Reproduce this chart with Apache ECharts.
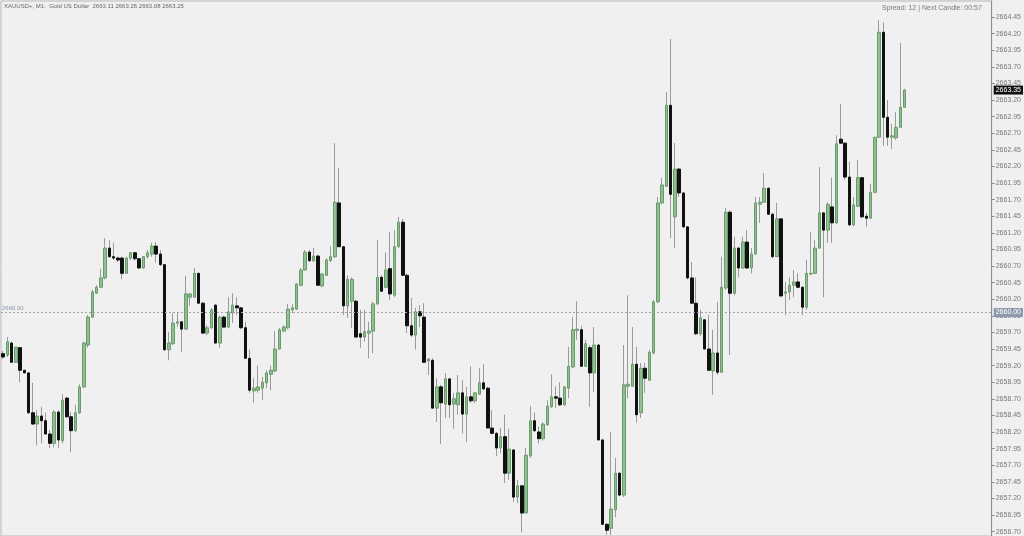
<!DOCTYPE html>
<html><head><meta charset="utf-8">
<script src="https://cdn.jsdelivr.net/npm/echarts@6/dist/echarts.min.js"></script>
<style>html,body{margin:0;padding:0;background:#f0f0f0;}#c{width:1024px;height:536px;}</style>
</head><body><div id="c"></div>
<script>
const titleText = "XAUUSD+, M1:  Gold US Dollar  2663.11 2663.26 2663.08 2663.25";
const infoText = "Spread: 12 | Next Candle: 00:57";
const refLevel = 2660.00;

const open = [
2659.38,2659.36,2659.54,2659.25,2659.47,2659.13,2659.09,2658.49,2658.32,2658.44,
2658.37,2658.17,2658.03,2658.50,2658.07,2658.71,2658.43,2658.22,2658.49,2658.88,
2659.51,2659.93,2660.29,2660.38,2660.52,2660.97,2660.84,2660.82,2660.82,2660.59,
2660.82,2660.90,2660.81,2660.67,2660.84,2660.88,2661.00,2660.88,2660.72,2659.44,
2659.53,2659.84,2659.86,2659.75,2660.23,2660.23,2660.59,2660.14,2659.69,2659.77,
2660.11,2659.54,2659.93,2659.78,2659.99,2660.10,2660.07,2659.77,2659.31,2658.82,
2658.83,2658.86,2658.94,2659.07,2659.12,2659.45,2659.72,2659.77,2660.04,2660.05,
2660.41,2660.64,2660.91,2660.78,2660.85,2660.40,2660.56,2660.78,2660.84,2661.65,
2660.99,2660.10,2660.17,2660.17,2659.68,2659.63,2659.69,2659.72,2660.13,2660.53,
2660.38,2660.66,2660.26,2660.99,2661.36,2660.56,2659.80,2659.66,2660.01,2659.93,
2659.27,2659.28,2658.56,2658.88,2658.62,2659.00,2658.62,2658.61,2658.79,2658.47,
2658.73,2658.67,2658.77,2658.94,2658.86,2658.26,2658.18,2657.96,2658.13,2657.58,
2657.93,2657.22,2657.39,2656.98,2657.84,2658.37,2658.20,2658.10,2658.31,2658.58,
2658.73,2658.71,2658.61,2658.86,2659.18,2659.73,2659.74,2659.19,2659.47,2659.09,
2659.51,2658.08,2656.81,2656.75,2657.03,2657.58,2657.25,2658.89,2658.89,2659.22,
2658.49,2659.16,2658.98,2659.39,2660.16,2661.65,2661.90,2663.12,2661.44,2662.16,
2661.80,2661.29,2660.52,2660.14,2659.68,2659.89,2659.45,2659.12,2659.39,2659.10,
2660.37,2661.51,2660.29,2660.97,2660.67,2661.06,2660.67,2660.88,2661.63,2661.66,
2661.87,2661.48,2660.84,2661.41,2660.29,2660.31,2660.41,2660.46,2660.38,2660.08,
2660.58,2660.59,2660.97,2661.50,2661.24,2661.59,2661.35,2662.61,2662.55,2662.04,
2661.32,2661.60,2662.03,2661.45,2661.42,2661.81,2662.64,2664.22,2662.94,2662.64,
2662.63,2662.79,2663.09
];
const close = [
2659.33,2659.56,2659.25,2659.48,2659.13,2659.09,2658.49,2658.32,2658.44,2658.37,
2658.17,2658.03,2658.50,2658.08,2658.68,2658.43,2658.22,2658.49,2658.88,2659.54,
2659.93,2660.31,2660.38,2660.52,2660.97,2660.84,2660.82,2660.79,2660.59,2660.82,
2660.90,2660.81,2660.67,2660.84,2660.90,2661.00,2660.88,2660.72,2659.44,2659.54,
2659.84,2659.86,2659.75,2660.28,2660.28,2660.59,2660.14,2659.69,2659.77,2660.04,
2659.54,2659.93,2659.78,2660.01,2660.11,2660.07,2659.77,2659.31,2658.83,2658.86,
2658.88,2658.95,2659.09,2659.13,2659.45,2659.74,2659.78,2660.05,2660.07,2660.43,
2660.64,2660.91,2660.78,2660.85,2660.41,2660.58,2660.79,2660.84,2661.66,2660.99,
2660.10,2660.50,2660.50,2659.63,2659.63,2659.71,2659.72,2660.13,2660.53,2660.32,
2660.64,2660.28,2660.99,2661.36,2660.56,2659.80,2659.66,2660.01,2659.95,2659.25,
2659.30,2658.56,2658.88,2658.64,2659.00,2658.61,2658.70,2658.79,2658.47,2658.73,
2658.67,2658.79,2658.94,2658.85,2658.26,2658.18,2657.96,2658.13,2657.58,2657.94,
2657.22,2657.39,2656.98,2657.85,2658.37,2658.22,2658.10,2658.32,2658.59,2658.73,
2658.71,2658.61,2658.88,2659.19,2659.74,2659.75,2659.19,2659.53,2659.09,2659.51,
2658.08,2656.81,2656.72,2657.04,2657.58,2657.25,2658.91,2658.92,2659.22,2658.46,
2659.16,2659.01,2659.40,2660.16,2661.65,2661.92,2663.12,2661.78,2662.16,2661.80,
2661.29,2660.52,2660.14,2659.68,2659.92,2659.45,2659.13,2659.39,2659.10,2660.38,
2661.51,2660.29,2660.97,2660.67,2661.06,2660.67,2660.88,2661.65,2661.66,2661.87,
2661.48,2660.84,2661.41,2660.25,2660.31,2660.41,2660.46,2660.38,2660.08,2660.59,
2660.59,2660.97,2661.50,2661.24,2661.63,2661.35,2662.54,2662.55,2662.04,2661.32,
2661.62,2662.03,2661.44,2661.42,2661.81,2662.64,2664.22,2662.94,2662.64,2662.66,
2662.79,2663.09,2663.35
];
const high = [
2659.42,2659.63,2659.56,2659.48,2659.48,2659.13,2659.10,2658.94,2658.53,2658.58,
2658.49,2658.23,2658.53,2658.53,2658.77,2658.73,2658.50,2658.61,2658.92,2659.56,
2659.96,2660.34,2660.41,2660.66,2661.12,2661.09,2661.05,2660.84,2660.84,2660.84,
2660.91,2660.91,2660.82,2660.85,2660.94,2661.05,2661.06,2660.94,2660.73,2659.71,
2659.99,2659.99,2659.86,2660.55,2660.29,2660.67,2660.60,2660.16,2659.81,2660.07,
2660.13,2659.95,2659.95,2660.23,2660.29,2660.23,2660.08,2659.86,2659.44,2659.01,
2659.20,2659.03,2659.13,2659.20,2659.72,2659.77,2659.81,2660.13,2660.13,2660.44,
2660.67,2660.94,2660.94,2660.97,2660.87,2660.59,2660.82,2661.00,2662.55,2662.18,
2661.00,2660.56,2660.53,2660.19,2660.04,2660.04,2659.86,2660.16,2661.09,2660.56,
2660.90,2661.21,2661.24,2661.44,2661.41,2660.59,2660.22,2660.07,2660.11,2660.14,
2659.31,2659.31,2659.01,2658.91,2659.09,2659.01,2658.79,2659.06,2658.98,2658.88,
2659.19,2658.80,2659.16,2659.22,2658.88,2658.53,2658.20,2658.26,2658.46,2658.25,
2657.94,2657.48,2657.40,2657.96,2658.59,2658.49,2658.28,2658.35,2658.68,2659.07,
2658.89,2658.95,2658.89,2659.48,2659.93,2660.17,2659.80,2659.59,2659.51,2659.78,
2659.53,2658.10,2656.83,2658.20,2657.81,2657.60,2659.51,2660.26,2659.78,2659.48,
2659.24,2659.24,2659.44,2660.19,2661.74,2662.03,2663.32,2664.12,2662.55,2662.18,
2661.81,2661.30,2660.76,2660.53,2660.04,2659.90,2659.96,2659.74,2660.16,2660.84,
2661.57,2661.54,2661.14,2660.99,2661.14,2661.24,2660.97,2661.74,2661.74,2662.10,
2661.89,2661.50,2661.65,2661.42,2660.46,2660.53,2660.64,2660.59,2660.40,2660.79,
2661.21,2661.09,2662.19,2661.51,2661.66,2662.03,2662.67,2663.14,2662.57,2662.27,
2661.74,2662.30,2662.04,2661.50,2661.94,2662.64,2664.40,2664.37,2663.20,2662.84,
2663.02,2664.06,2663.37
];
const low = [
2659.30,2659.33,2659.24,2659.24,2658.95,2659.09,2658.47,2658.31,2658.00,2658.03,
2658.16,2657.96,2657.97,2657.96,2658.03,2658.41,2657.90,2658.20,2658.47,2658.86,
2659.47,2659.92,2660.28,2660.37,2660.50,2660.82,2660.79,2660.76,2660.50,2660.58,
2660.79,2660.78,2660.66,2660.66,2660.81,2660.84,2660.75,2660.70,2659.42,2659.28,
2659.51,2659.78,2659.40,2659.74,2660.10,2660.23,2660.13,2659.68,2659.66,2659.75,
2659.53,2659.47,2659.77,2659.77,2659.84,2659.96,2659.75,2659.30,2658.79,2658.64,
2658.79,2658.68,2658.86,2658.83,2659.10,2659.44,2659.71,2659.75,2659.99,2660.04,
2660.40,2660.63,2660.76,2660.76,2660.40,2660.38,2660.55,2660.76,2660.82,2660.99,
2659.96,2659.92,2659.77,2659.62,2659.47,2659.56,2659.31,2659.39,2660.11,2660.31,
2660.37,2660.19,2660.23,2660.97,2660.55,2659.69,2659.63,2659.44,2659.78,2659.24,
2659.06,2658.55,2658.35,2658.02,2658.41,2658.41,2658.25,2658.46,2658.18,2658.05,
2658.64,2658.64,2658.76,2658.83,2658.25,2658.18,2657.84,2657.88,2657.43,2657.48,
2657.15,2657.13,2656.69,2656.98,2657.81,2658.20,2658.03,2658.07,2658.29,2658.56,
2658.56,2658.59,2658.59,2658.71,2659.16,2659.59,2659.18,2659.18,2658.58,2658.80,
2658.07,2656.80,2656.65,2656.65,2656.92,2657.24,2657.22,2658.71,2658.88,2658.34,
2658.41,2658.79,2658.97,2659.37,2660.14,2661.63,2661.89,2661.12,2660.97,2661.74,
2661.27,2660.50,2660.13,2659.66,2659.65,2659.44,2659.12,2658.76,2659.06,2659.09,
2660.34,2659.36,2660.26,2660.53,2660.66,2660.66,2660.59,2660.87,2661.35,2661.65,
2661.47,2660.82,2660.84,2660.23,2659.96,2660.19,2660.23,2660.37,2659.96,2660.04,
2660.56,2660.58,2660.96,2660.23,2661.05,2661.05,2661.33,2662.54,2662.00,2661.30,
2661.30,2661.59,2661.42,2661.29,2661.41,2661.80,2662.63,2662.51,2662.51,2662.46,
2662.60,2662.78,2663.08
];
const yTickLabels = [2656.70,2656.95,2657.20,2657.45,2657.70,2657.95,2658.20,2658.45,2658.70,2658.95,
2659.20,2659.45,2659.70,2659.95,2660.20,2660.45,2660.70,2660.95,2661.20,2661.45,2661.70,2661.95,
2662.20,2662.45,2662.70,2662.95,2663.20,2663.45,2663.70,2663.95,2664.20,2664.45];
const emptySlots = 20;

const categories = open.map((_, i) => String(i + 1)).concat(new Array(emptySlots).fill(''));
const wickData = open.map((o, i) => [o, close[i], low[i], high[i]]);
const bodyData = open.map((o, i) => [o, close[i], Math.min(o, close[i]), Math.max(o, close[i])]);
const lastPrice = close[close.length - 1];

const chart = echarts.init(document.getElementById('c'), null, {renderer: 'canvas'});
chart.setOption({
  backgroundColor: '#f0f0f0',
  animation: false,
  grid: {left: 1, right: 28, top: 1, bottom: 0, show: true, borderColor: '#b8b8b8', borderWidth: 1},
  xAxis: {type: 'category', data: categories, boundaryGap: true,
    axisLine: {show: false}, axisTick: {show: false}, axisLabel: {show: false}, splitLine: {show: false}},
  yAxis: {type: 'value', position: 'right', min: 2656.634, max: 2664.691, scale: true,
    axisLine: {show: true, lineStyle: {color: '#8c8c8c', width: 1}},
    axisTick: {show: true, length: 3, lineStyle: {color: '#8c8c8c'}, customValues: yTickLabels},
    axisLabel: {show: true, customValues: yTickLabels, fontSize: 7, color: '#777', margin: 4,
      fontFamily: 'Liberation Sans', formatter: v => v.toFixed(2)},
    splitLine: {show: false}},
  graphic: [
    {type: 'text', left: 4, top: 3, style: {text: titleText, fontSize: 6, fill: '#666', fontFamily: 'Liberation Sans'}},
    {type: 'text', left: 882, top: 5, style: {text: infoText, fontSize: 7, fill: '#7a7a7a', fontFamily: 'Liberation Sans'}}
  ],
  series: [
    {type: 'candlestick', name: 'wick', data: wickData, barWidth: 1, silent: true,
     itemStyle: {color: '#9a9a9a', color0: '#9a9a9a', borderColor: '#9a9a9a', borderColor0: '#9a9a9a', borderWidth: 1}},
    {type: 'candlestick', name: 'body', data: bodyData, barWidth: 3, silent: true,
     itemStyle: {color: '#8fc08f', color0: '#111111', borderColor: '#6a9a6a', borderColor0: '#111111', borderWidth: 1},
     markLine: {silent: true, symbol: 'none', animation: false,
       data: [
         {yAxis: refLevel, lineStyle: {type: [2, 2], color: '#a0a4aa', width: 1},
          label: {show: true, position: 'insideStartTop', formatter: refLevel.toFixed(2), color: '#8a96a8', fontSize: 6, distance: 1, fontFamily: 'Liberation Sans'}},
         {yAxis: refLevel, lineStyle: {color: 'rgba(0,0,0,0)', width: 1, type: 'solid'},
          label: {show: true, position: 'end', distance: 2, formatter: refLevel.toFixed(2), color: '#ffffff', backgroundColor: '#8e9aab', fontSize: 7, padding: [1, 2], fontFamily: 'Liberation Sans'}},
         {yAxis: lastPrice, lineStyle: {color: 'rgba(0,0,0,0)', width: 1, type: 'solid'},
          label: {show: true, position: 'end', distance: 2, formatter: lastPrice.toFixed(2), color: '#ffffff', backgroundColor: '#111111', fontSize: 7, padding: [1, 2], fontFamily: 'Liberation Sans'}}
       ]}}
  ]
});
</script></body></html>
